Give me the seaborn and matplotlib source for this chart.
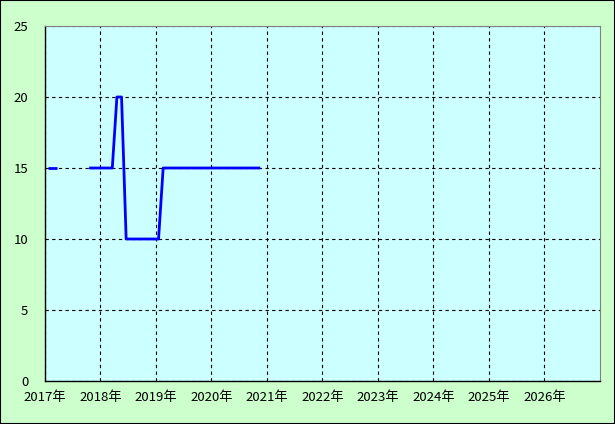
import numpy as np
import pandas as pd
import matplotlib
matplotlib.use("Agg")
import matplotlib.pyplot as plt
import seaborn as sns

# Monthly data (NaN = no data)
months = pd.period_range("2017-01", "2020-11", freq="M").astype(str).tolist()
values = ([15, 15, 15] + [np.nan] * 6 +
          [15, 15, 15, 15, 15, 15] +          # 2017-10 .. 2018-03
          [20, 20] +                          # 2018-04, 05
          [10] * 8 +                          # 2018-06 .. 2019-01
          [15] * 22)                          # 2019-02 .. 2020-11
year_ticks = list(range(2017, 2027))
year_labels = [f"{y}年" for y in year_ticks]
y_ticks = [0, 5, 10, 15, 20, 25]

df = pd.DataFrame({"month": months, "value": values})
per = pd.PeriodIndex(df["month"], freq="M")
df["x"] = per.year + (per.month - 0.45) / 12.0
df["seg"] = df["value"].isna().cumsum()
df = df.dropna()

sns.set_theme(style="white")
plt.rcParams["font.family"] = ["Noto Sans CJK JP", "DejaVu Sans"]

fig = plt.figure(figsize=(6.15, 4.24), dpi=100, facecolor="#CCFFCC")
ax = fig.add_axes([45 / 615, 1 - 381 / 424, 555 / 615, 355 / 424])
ax.set_facecolor("#CCFFFF")

sns.lineplot(data=df, x="x", y="value", units="seg", estimator=None,
             color="#0000FF", linewidth=2.0, ax=ax, solid_capstyle="butt")

ax.set_xlim(2017, 2027)
ax.set_ylim(0, 25)
ax.set_xticks(year_ticks)
ax.set_xticklabels(year_labels)
ax.set_yticks(y_ticks)
ax.set_xlabel("")
ax.set_ylabel("")
ax.tick_params(axis="both", length=0, labelsize=9.5, colors="black")
ax.tick_params(axis="x", pad=7)
ax.tick_params(axis="y", pad=12)
ax.grid(True, color="black", linestyle=(0, (3, 3)), linewidth=0.8)
ax.set_axisbelow(True)

for side in ["left", "bottom"]:
    ax.spines[side].set_color("black")
    ax.spines[side].set_linewidth(1.0)
for side in ["top", "right"]:
    ax.spines[side].set_color("#808080")
    ax.spines[side].set_linewidth(0.8)
    ax.spines[side].set_visible(True)

# figure border
fig.patches.append(plt.Rectangle((0, 0), 1, 1, transform=fig.transFigure,
                                 fill=False, edgecolor="black", linewidth=1.5))

fig.savefig("out.png", dpi=100, facecolor=fig.get_facecolor())
